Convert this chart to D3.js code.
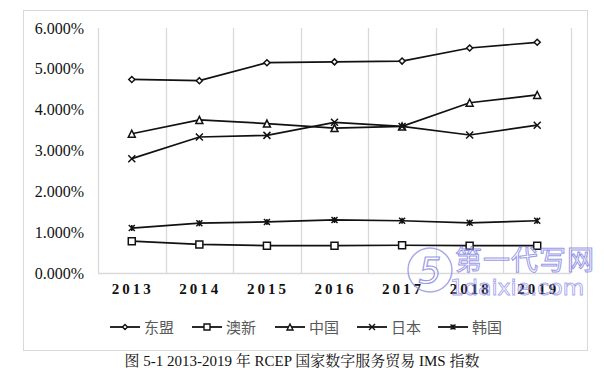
<!DOCTYPE html>
<html>
<head>
<meta charset="utf-8">
<script src="https://cdn.jsdelivr.net/npm/d3@7"></script>
<style>
  body { margin: 0; background: #fff; }
  svg { display: block; }
</style>
</head>
<body>
<svg id="chart" width="604" height="368"></svg>
<script>
const years = ['2013', '2014', '2015', '2016', '2017', '2018', '2019']
const yTicks = [0, 1, 2, 3, 4, 5, 6]

const asean = [4.74, 4.71, 5.15, 5.17, 5.19, 5.51, 5.65]
const anz = [0.78, 0.70, 0.67, 0.67, 0.68, 0.67, 0.67]
const china = [3.41, 3.75, 3.66, 3.55, 3.59, 4.17, 4.36]
const japan = [2.80, 3.33, 3.37, 3.69, 3.59, 3.38, 3.62]
const korea = [1.10, 1.22, 1.25, 1.30, 1.28, 1.23, 1.28]

const seriesNames = ['东盟', '澳新', '中国', '日本', '韩国']
const seriesValues = [asean, anz, china, japan, korea]
const seriesMarks = ['diamond', 'square', 'triangle', 'cross', 'star']

const series = seriesNames.map((name, i) => ({
	name: name,
	mark: seriesMarks[i],
	values: seriesValues[i],
}))

const svg = d3.select('#chart')
const plot = { left: 98, right: 571, top: 28, bottom: 273 }

// outer chart border
svg.append('rect')
	.attr('x', 23.5)
	.attr('y', 10.5)
	.attr('width', 564)
	.attr('height', 340)
	.attr('fill', '#fff')
	.attr('stroke', '#d9d9d9')

const x = d3.scaleBand().domain(years).range([plot.left, plot.right])
const y = d3.scaleLinear().domain([0, 6]).range([plot.bottom, plot.top])

// vertical gridlines on band edges
const edges = years.map(d => x(d)).concat([plot.right])
svg.append('g')
	.selectAll('line')
	.data(edges)
	.enter()
	.append('line')
	.attr('x1', d => Math.round(d) + 0.5)
	.attr('x2', d => Math.round(d) + 0.5)
	.attr('y1', plot.top)
	.attr('y2', plot.bottom)
	.attr('stroke', '#d9d9d9')
	.attr('stroke-width', 1.3)

svg.append('line')
	.attr('x1', plot.left)
	.attr('x2', plot.right)
	.attr('y1', plot.bottom + 0.5)
	.attr('y2', plot.bottom + 0.5)
	.attr('stroke', '#d9d9d9')
	.attr('stroke-width', 1.3)

// y axis labels
const yAxis = d3.axisLeft(y)
	.tickValues(yTicks)
	.tickSize(0)
	.tickPadding(0)
	.tickFormat(d => d.toFixed(3) + '%')
svg.append('g')
	.attr('transform', 'translate(84,0)')
	.call(yAxis)
	.call(g => g.select('.domain').remove())
	.selectAll('text')
	.attr('font-family', '"Liberation Serif", "Times New Roman", serif')
	.attr('font-size', 16)
	.attr('fill', '#111')

// x axis labels
const xAxis = d3.axisBottom(x).tickSize(0).tickPadding(0)
svg.append('g')
	.attr('transform', 'translate(1,' + 283 + ')')
	.call(xAxis)
	.call(g => g.select('.domain').remove())
	.selectAll('text')
	.attr('font-family', '"Liberation Serif", "Times New Roman", serif')
	.attr('font-size', 15)
	.attr('font-weight', 'bold')
	.attr('letter-spacing', 3)
	.attr('fill', '#111')

const markPath = function (type, s) {
	const h = s / 2
	if (type == 'diamond') {
		return `M0,${-h}L${h},0L0,${h}L${-h},0Z`
	}
	if (type == 'square') {
		return `M${-h},${-h}H${h}V${h}H${-h}Z`
	}
	if (type == 'triangle') {
		return `M0,${-h}L${h},${h}H${-h}Z`
	}
	if (type == 'cross') {
		return `M${-h},${-h}L${h},${h}M${h},${-h}L${-h},${h}`
	}
	return `M${-h},${-h}L${h},${h}M${h},${-h}L${-h},${h}M0,${-h}V${h}`
}
const markSize = { diamond: 6, square: 7, triangle: 7, cross: 7, star: 6 }

const line = d3
	.line()
	.x((d, i) => x(years[i]) + x.bandwidth() / 2)
	.y(d => y(d))

const lines = svg.append('g')
series.forEach(s => {
	lines.append('path')
		.attr('d', line(s.values))
		.attr('fill', 'none')
		.attr('stroke', '#111')
		.attr('stroke-width', 1.7)
	lines.append('g')
		.selectAll('path')
		.data(s.values)
		.enter()
		.append('path')
		.attr('transform', (d, i) => `translate(${x(years[i]) + x.bandwidth() / 2},${y(d)})`)
		.attr('d', markPath(s.mark, markSize[s.mark]))
		.attr('fill', s.mark == 'cross' || s.mark == 'star' ? 'none' : '#fff')
		.attr('stroke', '#111')
		.attr('stroke-width', 1.5)
})

// legend
const legendX = [110, 192, 275, 357, 438]
const legend = svg.append('g')
	.selectAll('g')
	.data(series)
	.enter()
	.append('g')
	.attr('transform', (d, i) => `translate(${legendX[i]},327)`)
legend.append('line')
	.attr('x1', 0)
	.attr('x2', 30)
	.attr('stroke', '#111')
	.attr('stroke-width', 1.8)
legend.append('path')
	.attr('transform', 'translate(15,0)')
	.attr('d', d => markPath(d.mark, markSize[d.mark] - 1))
	.attr('fill', d => (d.mark == 'cross' || d.mark == 'star' ? 'none' : '#fff'))
	.attr('stroke', '#111')
	.attr('stroke-width', 1.4)
legend.append('text')
	.attr('x', 34)
	.attr('y', 5.5)
	.attr('font-family', '"Noto Sans CJK SC", sans-serif')
	.attr('font-size', 15)
	.attr('fill', '#595959')
	.text(d => d.name)

// watermark
const wm = svg.append('g').attr('opacity', 0.75)
wm.append('circle')
	.attr('cx', 430)
	.attr('cy', 270)
	.attr('r', 22)
	.attr('fill', 'none')
	.attr('stroke', '#8c8ce8')
	.attr('stroke-width', 1.5)
wm.append('text')
	.attr('x', 430)
	.attr('y', 283)
	.attr('text-anchor', 'middle')
	.attr('font-family', 'DejaVu Sans, sans-serif')
	.attr('font-size', 36)
	.attr('font-style', 'italic')
	.attr('fill', '#fff')
	.attr('stroke', '#7777e0')
	.attr('stroke-width', 1.2)
	.text('5')
wm.append('text')
	.attr('x', 455)
	.attr('y', 270)
	.attr('font-family', '"Noto Sans CJK SC", sans-serif')
	.attr('font-size', 27)
	.attr('fill', 'rgba(255,255,255,0.6)')
	.attr('stroke', '#7777e0')
	.attr('stroke-width', 1)
	.attr('letter-spacing', 1)
	.text('第一代写网')
wm.append('text')
	.attr('x', 450)
	.attr('y', 295)
	.attr('font-family', 'DejaVu Sans, sans-serif')
	.attr('font-size', 22)
	.attr('fill', 'none')
	.attr('stroke', '#8c8ce8')
	.attr('stroke-width', 0.9)
	.text('1daixie.com')

// caption
svg.append('text')
	.attr('x', 302)
	.attr('y', 366)
	.attr('text-anchor', 'middle')
	.attr('font-family', '"Liberation Serif", "Noto Serif CJK SC", "Noto Sans CJK SC", serif')
	.attr('font-size', 15)
	.attr('fill', '#111')
	.text('图 5-1 2013-2019 年 RCEP 国家数字服务贸易 IMS 指数')
</script>
</body>
</html>
